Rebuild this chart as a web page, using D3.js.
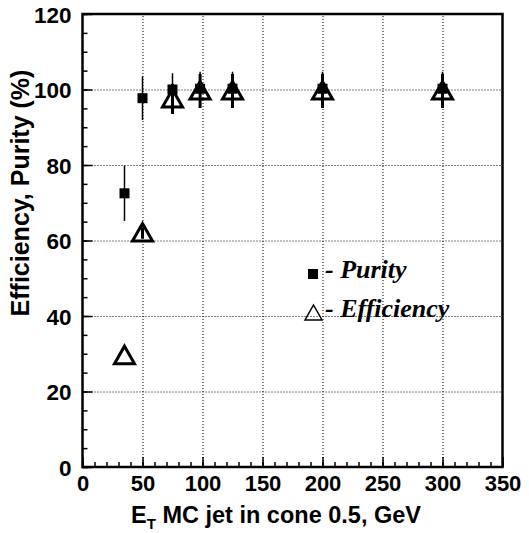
<!DOCTYPE html>
<html>
<head>
<meta charset="utf-8">
<script src="https://cdn.jsdelivr.net/npm/d3@7"></script>
<style>
  html, body { margin: 0; padding: 0; background: #fff; }
  svg { display: block; }
  .tick-label { font-family: "Liberation Sans", Arial, sans-serif; font-weight: bold; fill: #000; }
</style>
</head>
<body>
<svg id="chart" width="529" height="533"></svg>
<script>
// Jet energy points (GeV)
const energy = [35, 50, 75, 98, 125, 200, 300];
// Purity (%) with errors
const purity = [72.5, 97.7, 100, 100.2, 100.2, 100.2, 100.2];
const purityErr = [7.3, 5.8, 4.3, 4.5, 4.5, 4.5, 4.5];
// Efficiency (%) with errors
const efficiency = [29.5, 62, 97.5, 99.6, 99.6, 99.6, 99.6];
const efficiencyErr = [0, 1.5, 4.0, 4.5, 4.5, 4.5, 4.5];
// Axis ticks
const xTicks = [0, 50, 100, 150, 200, 250, 300, 350];
const yTicks = [0, 20, 40, 60, 80, 100, 120];

const svg = d3.select("#chart");
const plotL = 82.5, plotR = 502.5, plotT = 14, plotB = 467;
const x = d3.scaleLinear().domain([0, 350]).range([plotL, plotR]);
const y = d3.scaleLinear().domain([0, 120]).range([plotB, plotT]);

// dotted grid
const gridX = svg.append("g").attr("transform", `translate(0,${plotB})`)
  .call(d3.axisBottom(x).tickValues([50, 100, 150, 200, 250, 300]).tickSize(-(plotB - plotT)).tickFormat(""));
const gridY = svg.append("g").attr("transform", `translate(${plotL},0)`)
  .call(d3.axisLeft(y).tickValues([20, 40, 60, 80, 100]).tickSize(-(plotR - plotL)).tickFormat(""));
[gridX, gridY].forEach(g => {
  g.select(".domain").remove();
  g.selectAll("line").attr("stroke", "#000").attr("stroke-width", 1).attr("stroke-dasharray", "1,2");
});

// minor ticks (inward)
const minorX = svg.append("g").attr("transform", `translate(0,${plotB})`)
  .call(d3.axisBottom(x).tickValues(d3.range(0, 351, 10)).tickSize(-5).tickFormat(""));
const minorY = svg.append("g").attr("transform", `translate(${plotL},0)`)
  .call(d3.axisLeft(y).tickValues(d3.range(0, 121, 5)).tickSize(-5).tickFormat(""));
[minorX, minorY].forEach(g => {
  g.select(".domain").remove();
  g.selectAll("line").attr("stroke", "#000").attr("stroke-width", 1.5);
});

// major ticks with labels
const xAxis = svg.append("g").attr("transform", `translate(0,${plotB})`)
  .call(d3.axisBottom(x).tickValues(xTicks).tickSize(-10).tickPadding(8));
const yAxis = svg.append("g").attr("transform", `translate(${plotL},0)`)
  .call(d3.axisLeft(y).tickValues(yTicks).tickSize(-10).tickPadding(11));
[xAxis, yAxis].forEach(g => {
  g.select(".domain").remove();
  g.selectAll("line").attr("stroke", "#000").attr("stroke-width", 1.5);
  g.selectAll("text").attr("class", "tick-label").attr("fill", "#000");
});
xAxis.selectAll("text").style("font-size", "22px");
yAxis.selectAll("text").style("font-size", "22.5px").attr("dy", "0.36em");

// frame
svg.append("rect").attr("x", plotL).attr("y", plotT)
  .attr("width", plotR - plotL).attr("height", plotB - plotT)
  .attr("fill", "none").attr("stroke", "#000").attr("stroke-width", 2.5);

// axis titles
const xt = svg.append("text").attr("class", "tick-label")
  .attr("x", 276).attr("y", 523).attr("text-anchor", "middle").style("font-size", "23.5px");
xt.append("tspan").text("E");
xt.append("tspan").attr("dy", 6).style("font-size", "15px").text("T");
xt.append("tspan").attr("dy", -6).text(" MC jet in cone 0.5, GeV");

svg.append("text").attr("class", "tick-label")
  .attr("transform", `translate(29,193) rotate(-90)`)
  .attr("text-anchor", "middle").style("font-size", "25px")
  .text("Efficiency, Purity (%)");

// efficiency error bars
const idx = d3.range(energy.length);
svg.append("g").selectAll("line").data(idx.filter(i => efficiencyErr[i] > 0)).join("line")
  .attr("x1", i => x(energy[i])).attr("x2", i => x(energy[i]))
  .attr("y1", i => y(efficiency[i] - efficiencyErr[i]))
  .attr("y2", i => y(efficiency[i] + efficiencyErr[i]))
  .attr("stroke", "#000").attr("stroke-width", 3);

// purity error bars
svg.append("g").selectAll("line").data(idx).join("line")
  .attr("x1", i => x(energy[i])).attr("x2", i => x(energy[i]))
  .attr("y1", i => y(purity[i] - purityErr[i]))
  .attr("y2", i => y(purity[i] + purityErr[i]))
  .attr("stroke", "#000").attr("stroke-width", 1.5);

// purity markers
const sq = 10;
svg.append("g").selectAll("rect").data(idx).join("rect")
  .attr("x", i => x(energy[i]) - sq / 2).attr("y", i => y(purity[i]) - sq / 2)
  .attr("width", sq).attr("height", sq).attr("fill", "#000");

// efficiency markers (open triangles)
const triPath = (cx, cy) => `M${cx},${cy - 9.5} L${cx + 10},${cy + 8} L${cx - 10},${cy + 8} Z`;
svg.append("g").selectAll("path").data(idx).join("path")
  .attr("d", i => triPath(x(energy[i]), y(efficiency[i])))
  .attr("fill", "none").attr("stroke", "#000").attr("stroke-width", 3).attr("stroke-linejoin", "miter");

// legend
svg.append("rect").attr("x", 308).attr("y", 269).attr("width", sq).attr("height", sq).attr("fill", "#000");
svg.append("path").attr("d", "M313.5,305 L322,320 L305,320 Z")
  .attr("fill", "none").attr("stroke", "#000").attr("stroke-width", 1.5);
svg.append("text").attr("x", 325).attr("y", 278)
  .style("font-family", "'Liberation Serif', 'Times New Roman', serif")
  .style("font-weight", "bold").style("font-style", "italic").style("font-size", "26px")
  .text("- Purity");
svg.append("text").attr("x", 325).attr("y", 317)
  .style("font-family", "'Liberation Serif', 'Times New Roman', serif")
  .style("font-weight", "bold").style("font-style", "italic").style("font-size", "26px")
  .text("- Efficiency");
</script>
</body>
</html>
